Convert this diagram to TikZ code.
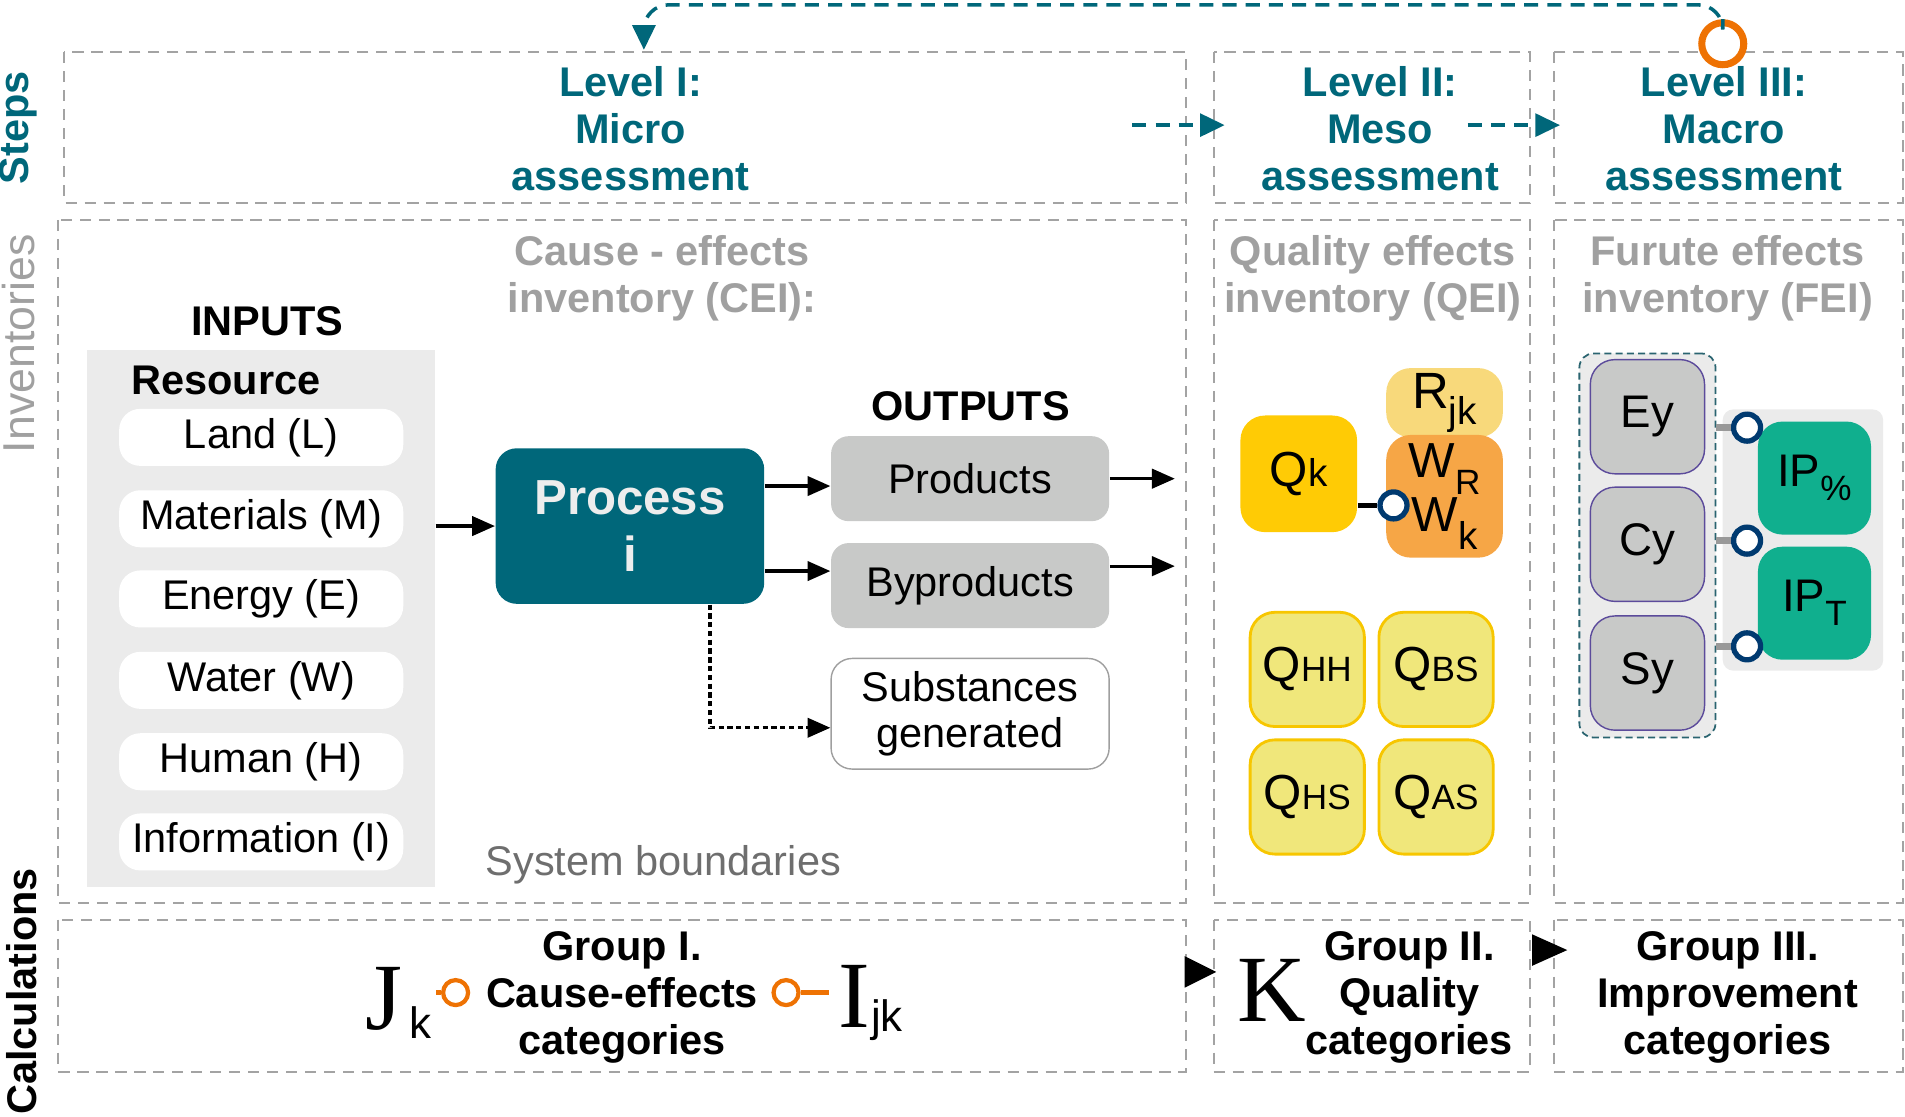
\documentclass[tikz,border=0pt]{standalone}
\usepackage{fontspec}
\setmainfont{Liberation Sans}
\newfontfamily\romanbig{Liberation Serif}
\usetikzlibrary{arrows.meta}

\definecolor{levelteal}{HTML}{00677A}
\definecolor{feiteal}{HTML}{2A6470}
\definecolor{framegray}{HTML}{A3A3A3}
\definecolor{titlegray}{HTML}{A0A0A0}
\definecolor{bndgray}{HTML}{6E6E6E}
\definecolor{panelgray}{HTML}{EBEBEB}
\definecolor{boxgray}{HTML}{C8C9C8}
\definecolor{qgold}{HTML}{FFCB05}
\definecolor{rpale}{HTML}{F8D97B}
\definecolor{worange}{HTML}{F6A646}
\definecolor{qyellow}{HTML}{F0E77B}
\definecolor{qedge}{HTML}{F7C600}
\definecolor{ipgreen}{HTML}{10AF8E}
\definecolor{ringnavy}{HTML}{003A70}
\definecolor{ringorange}{HTML}{EE7203}
\definecolor{boxpurple}{HTML}{5C4B9B}

\newcommand{\fsz}[2]{\fontsize{#1}{#2}\selectfont}

\tikzset{
  bndframe/.style={draw=framegray,line width=0.6pt,dash pattern=on 3.2pt off 2.2pt},
  leveltxt/.style={text=levelteal,font=\bfseries\fsz{11.8}{13.3},align=center},
  invtitle/.style={text=titlegray,font=\bfseries\fsz{11.8}{13.2},align=center},
  calctxt/.style={font=\bfseries\fsz{11.8}{13.3},align=center},
  inbox/.style={fill=white,rounded corners=6pt,minimum width=2.84cm,minimum height=0.57cm,inner sep=0pt,font=\fsz{11.8}{13}},
  outbox/.style={fill=boxgray,rounded corners=5pt,minimum width=2.78cm,minimum height=0.85cm,inner sep=0pt,font=\fsz{11.8}{13}},
  qeibox/.style={rounded corners=7pt,minimum width=1.166cm,inner sep=0pt},
  qbox/.style={fill=qyellow,draw=qedge,line width=0.8pt,rounded corners=7pt,minimum size=1.142cm,inner sep=0pt},
  feibox/.style={fill=boxgray,draw=boxpurple,line width=0.4pt,rounded corners=7pt,minimum size=1.142cm,inner sep=0pt,font=\fsz{13}{13}},
  ipbox/.style={fill=ipgreen,rounded corners=7pt,minimum size=1.13cm,inner sep=0pt,font=\fsz{13}{13}},
  arr/.style={line width=0.9pt,-{Triangle[length=6.5pt,width=5.5pt]}},
  dotarr/.style={arr,dash pattern=on 1.5pt off 1pt},
  tealarr/.style={draw=levelteal,line width=1pt,dash pattern=on 4pt off 2.6pt,-{Triangle[length=7pt,width=6.5pt]}},
  navyring/.style={circle,draw=ringnavy,fill=white,line width=1.5pt,minimum size=0.27cm,inner sep=0pt},
  orring/.style={circle,draw=ringorange,fill=white,line width=1.2pt,minimum size=0.25cm,inner sep=0pt},
  grayline/.style={draw=gray!80,line width=1.8pt},
  bigletter/.style={font=\romanbig\fsz{27}{27},inner sep=0pt},
}

\begin{document}
\begin{tikzpicture}[x=0.01215cm,y=-0.01215cm]
  \useasboundingbox (0,0) rectangle (1568,919);
  % frames of the three rows
  \foreach \ya/\yb in {43/167,181/743,757/882} {
    \draw[bndframe] (999,\ya) rectangle (1259,\yb);
    \draw[bndframe] (1279,\ya) rectangle (1566,\yb);
  }
  \draw[bndframe] (53,43) rectangle (976,167);
  \draw[bndframe] (48,181) rectangle (976,743);
  \draw[bndframe] (48,757) rectangle (976,882);

  \node[rotate=90,text=levelteal,font=\bfseries\fsz{11.8}{13}] (steps) at (15,105) {Steps};
  \node[rotate=90,text=titlegray,font=\fsz{12.7}{14}] (invs) at (15,283) {Inventories};
  \node[rotate=90,font=\bfseries\fsz{11.8}{13}] (calcs) at (18,816) {Calculations};

  % steps
  \node[leveltxt] (lvl1) at (519,106) {Level I:\\Micro\\assessment};
  \node[leveltxt] (lvl2) at (1136,106) {Level II:\\Meso\\assessment};
  \node[leveltxt] (lvl3) at (1419,106) {Level III:\\Macro\\assessment};
  \node[circle,draw=ringorange,fill=white,line width=2pt,minimum size=0.42cm,inner sep=0pt] (topring) at (1418,36) {};
  \coordinate (lvlin) at (530,41);
  \draw[tealarr,rounded corners=7pt] (topring.north) -- (1418,4) -- (530,4) -- (lvlin);
  \coordinate (s1a) at (932,103);
  \coordinate (s1b) at (1008,103);
  \coordinate (s2a) at (1208,103);
  \coordinate (s2b) at (1284,103);
  \draw[tealarr] (s1a) -- (s1b);
  \draw[tealarr] (s2a) -- (s2b);

  % cause - effects inventory
  \node[invtitle] (cei) at (545,229) {Cause - effects\\inventory (CEI):};
  \node[font=\bfseries\fsz{11.8}{13}] (inputs) at (220,264) {INPUTS};
  \node[fill=panelgray,minimum width=3.475cm,minimum height=5.37cm,inner sep=0pt] (inpanel) at (215,509) {};
  \node[font=\bfseries\fsz{11.8}{13}] (resource) at (186,313) {Resource};
  \foreach \y/\nm/\lbl in {360/land/Land (L),427/mat/Materials (M),493/ener/Energy (E),560/water/Water (W),627/human/Human (H),693/info/Information (I)}
    \node[inbox] (\nm) at (215,\y) {\lbl};
  \node[fill=levelteal,rounded corners=6pt,minimum width=2.685cm,minimum height=1.555cm,text=white!93!black,font=\bfseries\fsz{14}{16.2},align=center] (proc) at (518.5,433) {Process\\i};
  \draw[arr] (inpanel.east |- proc.west) -- (proc.west);
  \node[font=\bfseries\fsz{11.8}{13}] (outputs) at (799,334) {OUTPUTS};
  \node[outbox] (prod) at (798.5,394) {Products};
  \node[outbox] (byprod) at (798.5,482) {Byproducts};
  \node[draw=gray!75,fill=white,rounded corners=6pt,minimum width=2.78cm,minimum height=1.106cm,inner sep=0pt,align=center,font=\fsz{11.8}{13.1}] (subst) at (798.5,587.5) {Substances\\generated};
  \coordinate (p1) at ([yshift=0.40cm]proc.east);
  \coordinate (p2) at ([yshift=-0.45cm]proc.east);
  \draw[arr] (p1) -- (p1 -| prod.west);
  \draw[arr] (p2) -- (p2 -| byprod.west);
  \coordinate (prodout) at (967,394);
  \coordinate (bypout) at (967,466);
  \draw[arr] (prod.east) -- (prodout);
  \draw[arr] (bypout -| byprod.east) -- (bypout);
  \draw[dotarr] ([xshift=0.80cm]proc.south) |- ([yshift=-0.14cm]subst.west);
  \node[text=bndgray,font=\fsz{11.8}{13}] (sysb) at (546,712) {System boundaries};

  % quality effects inventory
  \node[invtitle] (qei) at (1130,229) {Quality effects\\inventory (QEI)};
  \node[qeibox,fill=qgold,minimum height=1.166cm] (qk) at (1069,390) {{\fsz{14}{14}Q}{\fsz{11}{11}k}};
  \node[qeibox,fill=rpale,minimum height=0.693cm] (rjk) at (1189,331.5) {{\fsz{14.5}{14}R}\raisebox{-4.5pt}{\fsz{11}{11}jk}};
  \node[qeibox,fill=worange,minimum height=1.227cm,align=center,font=\fsz{14}{15.5}] (wbox) at (1189,408.5) {W\raisebox{-5pt}{\fsz{10}{10}R}\\W\raisebox{-5pt}{\fsz{11}{11}k}};
  \node[navyring] (wring) at (1147,416) {};
  \draw[line width=1.6pt] (qk.east |- wring) -- (wring.west);
  \node[qbox] (qhh) at (1076,551) {{\fsz{14}{14}Q}{\fsz{10}{10}HH}};
  \node[qbox] (qbs) at (1182,551) {{\fsz{14}{14}Q}{\fsz{10}{10}BS}};
  \node[qbox] (qhs) at (1076,656) {{\fsz{14}{14}Q}{\fsz{10}{10}HS}};
  \node[qbox] (qas) at (1182,656) {{\fsz{14}{14}Q}{\fsz{10}{10}AS}};

  % future effects inventory
  \node[invtitle] (fei) at (1422,229) {Furute effects\\inventory (FEI)};
  \node[fill=panelgray,draw=feiteal,line width=0.5pt,dash pattern=on 2pt off 1.2pt,rounded corners=4pt,minimum width=1.361cm,minimum height=3.839cm,inner sep=0pt] (feipanel) at (1356,449) {};
  \node[fill=panelgray,rounded corners=3pt,minimum width=1.604cm,minimum height=2.612cm,inner sep=0pt] (ippanel) at (1484,444.5) {};
  \foreach \y/\nm/\lbl in {343/ey/Ey,448/cy/Cy,554/sy/Sy}
    \node[feibox] (\nm) at (1356,\y) {\lbl};
  \node[ipbox] (ippct) at (1493.5,393.5) {IP\raisebox{-4pt}{\fsz{10}{10}\%}};
  \node[ipbox] (ipt) at (1493.5,496.5) {IP\raisebox{-4pt}{\fsz{10}{10}T}};
  \foreach \y/\nm in {352/ra,445/rb,532/rc} {
    \node[navyring] (\nm) at (1438,\y) {};
    \draw[grayline] (\nm -| feipanel.east) -- (\nm.west);
  }

  % calculations
  \node[calctxt] (grp1) at (512,821) {Group I.\\Cause-effects\\categories};
  \node[bigletter] (jbig) at (316,822) {J};
  \node[font=\fsz{12.5}{13}] (jsub) at (346,842) {k};
  \node[orring] (o1) at (375,817) {};
  \coordinate (j1) at (359,817);
  \draw[ringorange,line width=1.2pt] (j1) -- (o1.west);
  \node[orring] (o2) at (647,817) {};
  \coordinate (i1) at (682,817);
  \draw[ringorange,line width=1.2pt] (o2.east) -- (i1);
  \node[bigletter] (ibig) at (703,820) {I};
  \node[font=\fsz{12.5}{13}] (isub) at (730,840) {jk};
  \fill (975,787) -- (1001,800) -- (975,813) -- cycle;
  \node[bigletter] (kbig) at (1047,815) {K};
  \node[calctxt] (grp2) at (1160,821) {Group II.\\Quality\\categories};
  \fill (1261,769) -- (1290,782) -- (1261,795) -- cycle;
  \node[calctxt] (grp3) at (1422,821) {Group III.\\Improvement\\categories};
\end{tikzpicture}
\end{document}
